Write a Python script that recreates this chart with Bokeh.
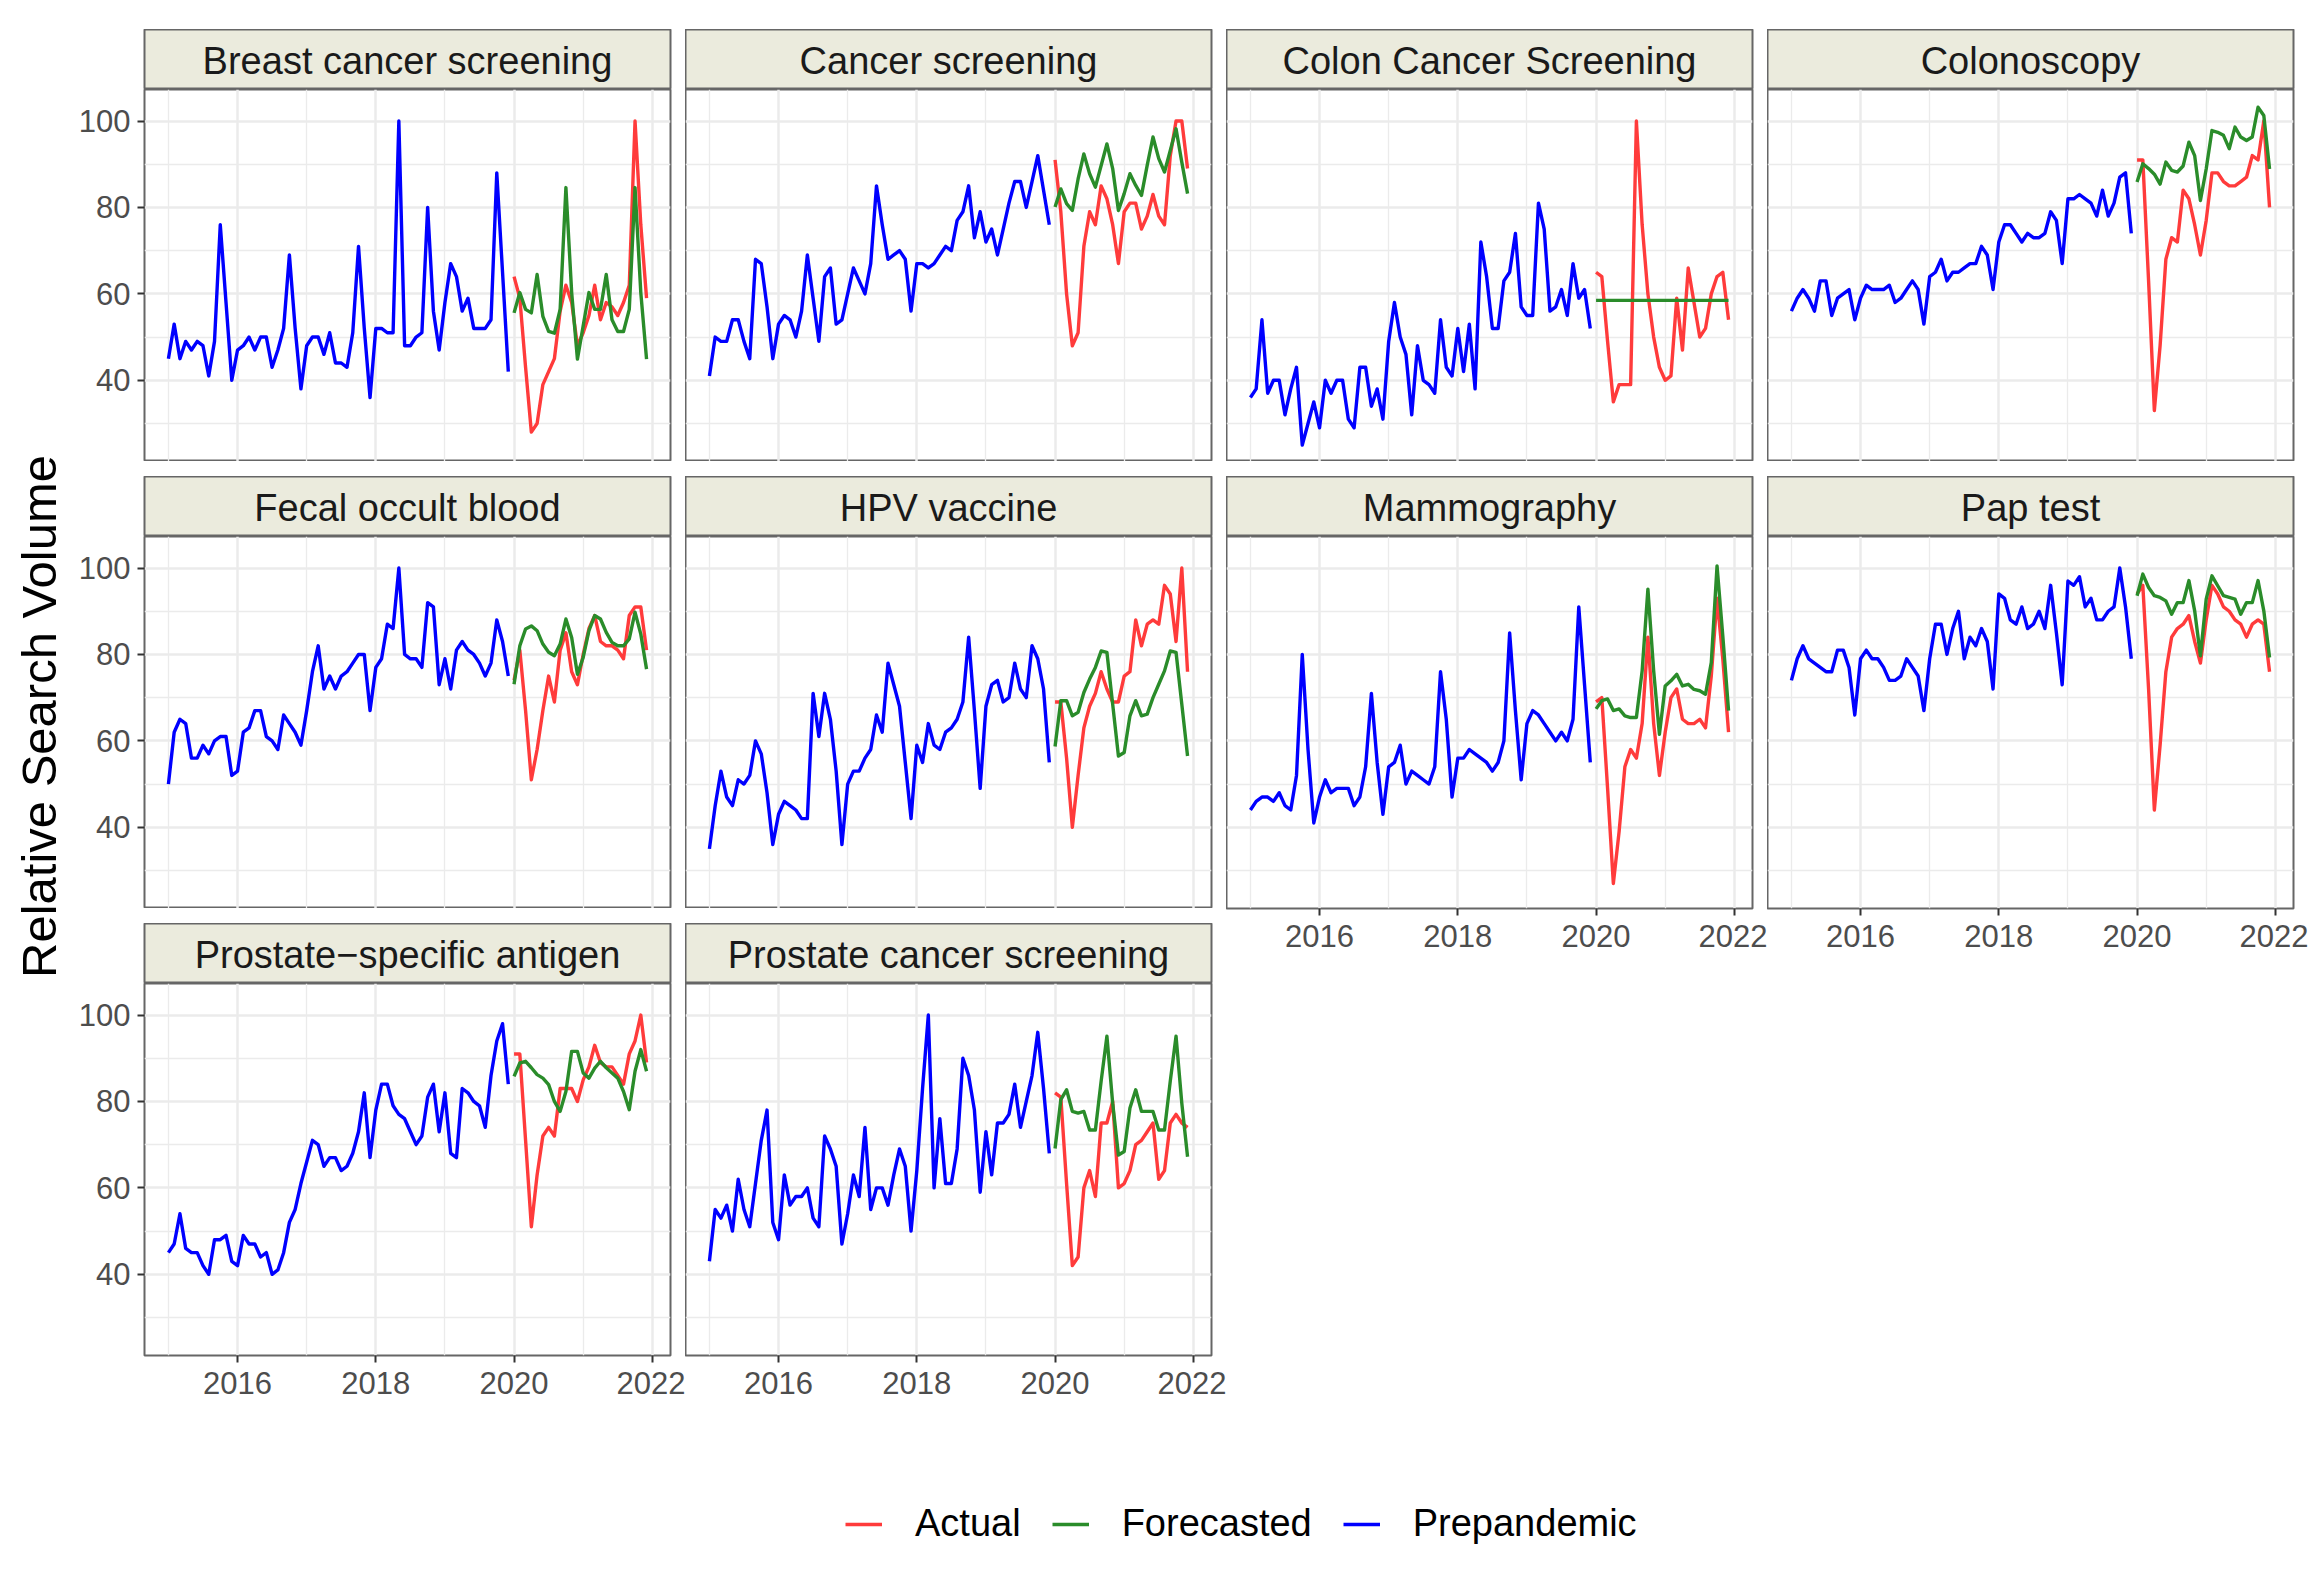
import math
from bokeh.plotting import figure
from bokeh.layouts import row, column, Spacer
from bokeh.models import Range1d, FixedTicker, Legend, LegendItem
from bokeh.core.properties import value
from bokeh.embed import file_html
from bokeh.resources import INLINE

# ---------------- data ----------------
pre_months = [f"{y}-{m:02d}" for y in range(2015, 2020) for m in range(1, 13)]
post_months = [f"{y}-{m:02d}" for y in range(2020, 2022) for m in range(1, 13)]

breast_pre = [45,53,45,49,47,49,48,41,49,76,58,40, 47,48,50,47,50,50,43,47,52,69,52,38,
              48,50,50,46,51,44,44,43,51,71,52,36, 52,52,51,51,100,48,48,50,51,80,56,47,
              58,67,64,56,59,52,52,52,54,88,65,42]
breast_act = [64,59,43,28,30,39,42,45,56,62,58,48, 51,55,62,54,58,57,55,58,62,100,76,59]
breast_fc = [55.6,60.3,56.4,55.6,64.5,54.8,51.3,50.9,56.4,84.6,60.3,44.9,
             52.6,60.3,56.4,56.4,64.5,54.0,51.3,51.3,56.4,84.6,60.3,44.9]

cancer_pre = [41,50,49,49,54,54,49,45,68,67,57,45, 53,55,54,50,56,69,59,49,64,66,53,54,
              60,66,63,60,67,85,76,68,69,70,68,56, 67,67,66,67,69,71,70,77,79,85,73,79,
              72,75,69,75,81,86,86,80,86,92,84,76]
cancer_act = [91,79,60,48,51,71,79,76,85,82,76,67, 79,81,81,75,78,83,78,76,92,100,100,89]
cancer_fc = [80.1,84.3,80.9,79.3,86.6,92.4,87.8,84.7,89.7,94.7,89.0,79.3,
             83.2,87.8,85.1,82.8,89.8,96.3,91.3,88.2,93.2,98.2,90.5,83.2]

colon_pre = [36,38,54,37,40,40,32,38,43,25,30,35, 29,40,37,40,40,31,29,43,43,34,38,31,
             49,58,50,46,32,48,40,39,37,54,43,41, 52,42,53,38,72,64,52,52,63,65,74,57,
             55,55,81,75,56,57,61,55,67,59,61,52]
colon_act = [65,64,49,35,39,39,39,100,76,60,50,43, 40,41,59,47,66,58,50,52,60,64,65,54]
colon_fc = [58.5,58.5,58.5,58.5,58.5,58.5,58.5,58.5,58.5,58.5,58.5,58.5,
            58.5,58.5,58.5,58.5,58.5,58.5,58.5,58.5,58.5,58.5,58.5,58.5]

colono_pre = [56,59,61,59,56,63,63,55,59,60,61,54, 59,62,61,61,61,62,58,59,61,63,61,53,
              64,65,68,63,65,65,66,67,67,71,69,61, 72,76,76,74,72,74,73,73,74,79,77,67,
              82,82,83,82,81,78,84,78,81,87,88,74]
colono_act = [91,91,63,33,48,68,73,72,84,82,76,69, 77,88,88,86,85,85,86,87,92,91,100,80]
colono_fc = [85.9,90.1,89.0,87.7,85.4,90.5,88.6,88.2,89.6,95.1,92.0,81.6,
             88.9,97.8,97.4,96.7,93.6,98.6,96.3,95.5,96.3,103.2,101.3,88.9]

fecal_pre = [50,62,65,64,56,56,59,57,60,61,61,52, 53,62,63,67,67,61,60,58,66,64,62,59,
             67,76,82,72,75,72,75,76,78,80,80,67, 77,79,87,86,100,80,79,79,77,92,91,73,
             79,72,81,83,81,80,78,75,78,88,83,75]
fecal_act = [74,81,67,51,58,67,75,69,81,85,76,73, 80,86,89,83,82,82,81,79,89,91,91,81]
fecal_fc = [73.1,82.0,85.9,86.6,85.5,82.4,80.5,79.7,82.4,88.2,83.9,75.4,
            79.3,85.5,89.0,88.2,85.1,82.8,82.0,82.0,83.6,89.8,84.7,76.6]

hpv_pre = [35,45,53,47,45,51,50,52,60,57,48,36, 43,46,45,44,42,42,71,61,71,65,53,36,
           50,53,53,56,58,66,62,78,73,68,55,42, 59,55,64,59,58,62,63,65,69,84,67,49,
           68,73,74,69,70,78,72,70,82,79,72,55]
hpv_act = [69,69,56,40,52,63,68,71,76,72,69,69, 75,76,88,82,87,88,87,96,94,83,100,76]
hpv_fc = [58.7,69.3,69.3,65.8,66.6,71.2,74.3,77.0,80.8,80.5,68.5,56.5,
          57.3,65.8,69.3,65.8,66.2,70.0,73.1,76.2,80.8,80.5,68.5,56.5]

mammo_pre = [44,46,47,47,46,48,45,44,52,80,58,41, 47,51,48,49,49,49,45,47,54,71,55,43,
             54,55,59,50,53,52,51,50,54,76,65,47, 56,56,58,57,56,55,53,55,60,85,67,51,
             64,67,66,64,62,60,62,60,65,91,73,55]
mammo_act = [69,70,49,27,39,54,58,56,64,84,64,52, 62,70,72,65,64,64,65,63,75,93,79,62]
mammo_fc = [67.4,69.3,69.7,67.0,67.4,65.8,65.4,65.4,76.2,95.1,76.2,61.5,
            72.7,73.9,75.4,72.7,73.1,71.9,71.6,70.8,78.1,100.5,84.3,67.0]

pap_pre = [74,79,82,79,78,77,76,76,81,81,77,66, 79,81,79,79,77,74,74,75,79,77,75,67,
           79,87,87,80,86,90,79,84,82,86,83,72, 94,93,88,87,91,86,87,90,86,96,85,73,
           97,96,98,91,93,88,88,90,91,100,91,79]
pap_act = [94,96,72,44,59,76,84,86,87,89,83,78, 88,96,94,91,90,88,87,84,87,88,87,76]
pap_fc = [93.6,98.6,95.5,93.6,93.2,92.4,89.3,92.0,92.0,97.1,90.1,79.7,
          92.8,98.2,95.9,93.6,93.2,92.8,89.3,92.0,92.0,97.1,90.1,79.3]

psa_pre = [45,47,54,46,45,45,42,40,48,48,49,43, 42,49,47,47,44,45,40,41,45,52,55,61,
           66,71,70,65,67,67,64,65,68,73,82,67, 78,84,84,79,77,76,73,70,72,81,84,73,
           82,68,67,83,82,80,79,74,86,94,98,84]
psa_act = [91,91,71,51,63,72,74,72,83,83,83,80, 85,88,93,89,88,88,86,84,91,94,100,89]
psa_fc = [85.8,88.9,89.3,87.8,86.2,85.4,83.9,80.0,77.7,82.3,91.6,91.6,
          86.6,85.4,87.7,89.3,87.8,86.6,85.4,82.3,78.1,87.0,92.0,87.0]

prost_pre = [43,55,53,56,50,62,55,51,61,71,78,52, 48,63,56,58,58,60,53,51,72,69,65,47,
             54,63,58,74,55,60,60,56,63,69,65,50, 64,83,100,60,76,61,61,69,90,86,78,59,
             73,63,75,75,77,84,74,80,86,96,83,68]
prost_act = [82,81,61,42,44,60,64,58,75,75,80,60, 61,64,70,71,73,75,62,64,75,77,75,74]
prost_fc = [69.1,80.4,82.7,77.7,77.3,77.7,73.4,73.4,84.7,95.1,79.6,67.6,
            68.4,78.5,82.7,77.7,77.7,77.7,73.4,73.4,84.7,95.1,79.6,67.2]

panel_titles = ["Breast cancer screening", "Cancer screening", "Colon Cancer Screening",
                "Colonoscopy", "Fecal occult blood", "HPV vaccine", "Mammography",
                "Pap test", "Prostate\u2212specific antigen", "Prostate cancer screening"]
panel_pre = [breast_pre, cancer_pre, colon_pre, colono_pre, fecal_pre, hpv_pre,
             mammo_pre, pap_pre, psa_pre, prost_pre]
panel_act = [breast_act, cancer_act, colon_act, colono_act, fecal_act, hpv_act,
             mammo_act, pap_act, psa_act, prost_act]
panel_fc = [breast_fc, cancer_fc, colon_fc, colono_fc, fecal_fc, hpv_fc,
            mammo_fc, pap_fc, psa_fc, prost_fc]

x_major = [2016, 2018, 2020, 2022]
x_minor = [2015, 2017, 2019, 2021]
y_major = [40, 60, 80, 100]
y_minor = [30, 50, 70, 90]
series_labels = ["Actual", "Forecasted", "Prepandemic"]

# ---------------- style ----------------
FONT = "Liberation Sans"
RED = "#FF3B3B"
GREEN = "#2A8C2A"
BLUE = "#0000FF"
STRIP_FILL = "#EBEBDD"
BORDER = "#666666"
GRID = "#EBEBEB"
LW = 3.4

FRAME_W = 526
FRAME_H = 372
STRIP_H = 60
GAP_V = 15
GAP_H = 15
LEFT_AX = 77
TOP = 29
YT_W = 67
BOTTOM_AX = 56


def dec_year(s):
    y, m = s.split("-")
    return int(y) + (int(m) - 1) / 12.0


x_pre = [dec_year(s) for s in pre_months]
x_post = [dec_year(s) for s in post_months]


def make_strip(title, show_y):
    s = figure(frame_width=FRAME_W, frame_height=STRIP_H,
               x_range=Range1d(0, 1), y_range=Range1d(0, 1),
               output_backend="svg", toolbar_location=None,
               x_axis_location=None, y_axis_location=None,
               min_border_left=LEFT_AX if show_y else 0, min_border_right=GAP_H,
               min_border_top=0, min_border_bottom=0)
    s.grid.visible = False
    s.background_fill_color = STRIP_FILL
    s.border_fill_color = "white"
    s.outline_line_color = BORDER
    s.outline_line_width = 2
    s.text(x=[0.5], y=[0.48], text=[title], text_align="center",
           text_baseline="middle", text_font=value(FONT),
           text_font_size="38px", text_color="#1A1A1A")
    return s


def make_panel(i, show_x, show_y):
    p = figure(frame_width=FRAME_W, frame_height=FRAME_H,
               x_range=Range1d(2014.654, 2022.263), y_range=Range1d(21.2, 107.3),
               output_backend="svg", toolbar_location=None,
               x_axis_location="below" if show_x else None,
               y_axis_location="left" if show_y else None,
               min_border_left=LEFT_AX if show_y else 0, min_border_right=GAP_H,
               min_border_top=0, min_border_bottom=BOTTOM_AX if show_x else 0)
    p.background_fill_color = "white"
    p.border_fill_color = "white"
    p.outline_line_color = BORDER
    p.outline_line_width = 2
    xt = FixedTicker(ticks=x_major, minor_ticks=x_minor)
    yt = FixedTicker(ticks=y_major, minor_ticks=y_minor)
    p.xgrid.ticker = xt
    p.ygrid.ticker = yt
    for g in (p.xgrid, p.ygrid):
        g.grid_line_color = GRID
        g.grid_line_width = 2.5
        g.minor_grid_line_color = GRID
        g.minor_grid_line_width = 1.3
    axes = []
    if show_x:
        p.xaxis.ticker = xt
        p.xaxis.major_label_overrides = {t: str(t) for t in x_major}
        axes.append(p.xaxis)
    if show_y:
        p.yaxis.ticker = yt
        p.yaxis.major_label_overrides = {t: str(t) for t in y_major}
        axes.append(p.yaxis)
    for ax in axes:
        ax.axis_line_color = None
        ax.major_tick_line_color = "#333333"
        ax.major_tick_line_width = 2
        ax.major_tick_out = 7
        ax.major_tick_in = 0
        ax.minor_tick_line_color = None
        ax.major_label_text_font = FONT
        ax.major_label_text_font_size = "31px"
        ax.major_label_text_color = "#4D4D4D"
    if show_x:
        p.xaxis.major_label_standoff = 9
    if show_y:
        p.yaxis.major_label_standoff = 7
    p.line(x=x_post, y=panel_act[i], line_color=RED, line_width=LW, line_join="round")
    p.line(x=x_post, y=panel_fc[i], line_color=GREEN, line_width=LW, line_join="round")
    p.line(x=x_pre, y=panel_pre[i], line_color=BLUE, line_width=LW, line_join="round")
    return p


n_rows_per_col = [3, 3, 2, 2]
columns = []
for c in range(4):
    cw = FRAME_W + GAP_H + (LEFT_AX if c == 0 else 0)
    kids = [Spacer(width=cw, height=TOP)]
    nr = n_rows_per_col[c]
    for r in range(nr):
        i = r * 4 + c
        if r > 0:
            kids.append(Spacer(width=cw, height=GAP_V))
        kids.append(make_strip(panel_titles[i], c == 0))
        kids.append(make_panel(i, r == nr - 1, c == 0))
    columns.append(column(*kids, spacing=0))

ROW_H = TOP + 3 * (STRIP_H + FRAME_H) + 2 * GAP_V + BOTTOM_AX
yt_fig = figure(width=YT_W, height=ROW_H, x_range=Range1d(0, YT_W), y_range=Range1d(0, ROW_H),
                output_backend="svg", toolbar_location=None,
                x_axis_location=None, y_axis_location=None, min_border=0)
yt_fig.grid.visible = False
yt_fig.outline_line_color = None
yt_fig.text(x=[38], y=[ROW_H - 716], text=["Relative Search Volume"], angle=math.pi / 2,
            text_align="center", text_baseline="middle", text_font=value(FONT),
            text_font_size="49px", text_color="black")

top_row = row(yt_fig, *columns, spacing=0)

TOTAL_W = YT_W + LEFT_AX + 4 * (FRAME_W + GAP_H)
LG_H = 160
lg = figure(width=TOTAL_W, height=LG_H, x_range=Range1d(0, 1), y_range=Range1d(0, 1),
            output_backend="svg", toolbar_location=None,
            x_axis_location=None, y_axis_location=None, min_border=0)
lg.grid.visible = False
lg.outline_line_color = None
# legend-only renderers, their points lie outside the visible range
r_act = lg.line(x=[-5, -4], y=[-5, -4], line_color=RED, line_width=LW)
r_fc = lg.line(x=[-5, -4], y=[-5, -4], line_color=GREEN, line_width=LW)
r_pre = lg.line(x=[-5, -4], y=[-5, -4], line_color=BLUE, line_width=LW)
legend = Legend(items=[LegendItem(label=series_labels[0], renderers=[r_act]),
                       LegendItem(label=series_labels[1], renderers=[r_fc]),
                       LegendItem(label=series_labels[2], renderers=[r_pre])],
                orientation="horizontal", location=(845, 26),
                label_text_font=FONT, label_text_font_size="38px",
                label_text_color="black", glyph_width=37, glyph_height=40,
                label_standoff=33, spacing=31, border_line_color=None,
                background_fill_alpha=0, padding=10, margin=0)
lg.add_layout(legend)

layout = column(top_row, lg, spacing=0)

open("out.html", "w").write(file_html(layout, INLINE))
